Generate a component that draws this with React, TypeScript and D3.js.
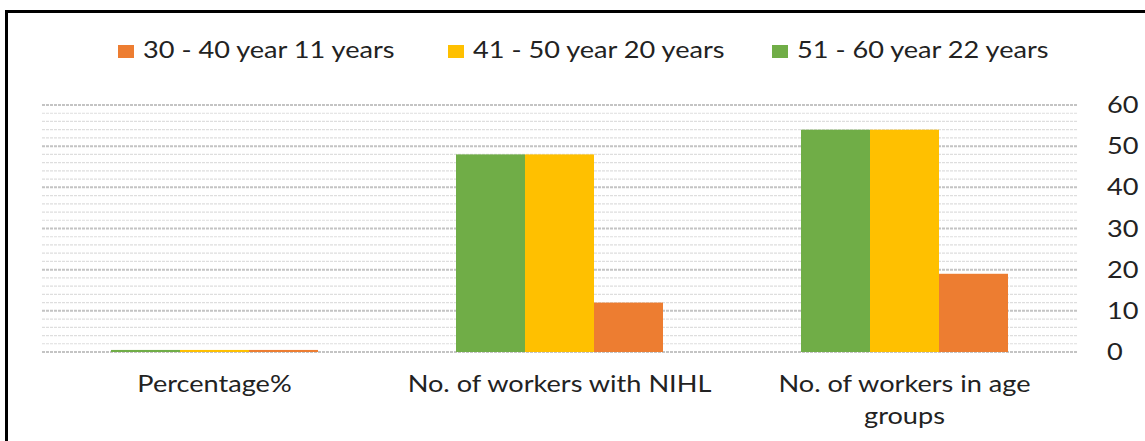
import React from "react";
import * as d3 from "d3";

const categories: string[][] = [
  ["Percentage%"],
  ["No. of workers with NIHL"],
  ["No. of workers in age", "groups"],
];
const seriesNames = ["51 - 60 year 22 years", "41 - 50 year 20 years", "30 - 40 year 11 years"];
const seriesColors = ["#70AD47", "#FFC000", "#ED7D31"];
const green51to60 = [0.5, 48, 54];
const yellow41to50 = [0.5, 48, 54];
const orange30to40 = [0.5, 12, 19];
const legendOrder = [2, 1, 0];
const yTicks = [0, 10, 20, 30, 40, 50, 60];

const W = 1145;
const H = 441;
const left = 42;
const right = 1077;
const top = 105;
const bottom = 352;
const FONT = "Lato, 'Open Sans', sans-serif";
const SX = 1.18;

function SText(props: {
  x: number;
  y: number;
  size: number;
  anchor?: "start" | "middle" | "end";
  dy?: string;
  children: React.ReactNode;
}) {
  return (
    <text
      transform={`translate(${props.x},${props.y}) scale(${SX},1)`}
      textAnchor={props.anchor ?? "start"}
      dy={props.dy}
      fontSize={props.size}
      fill="#222"
    >
      {props.children}
    </text>
  );
}

export default function App() {
  const series = [green51to60, yellow41to50, orange30to40];
  const x = d3
    .scaleBand<number>()
    .domain(categories.map((_, i) => i))
    .range([left, right])
    .paddingInner(0.4)
    .paddingOuter(0.2);
  const x1 = d3
    .scaleBand<number>()
    .domain(series.map((_, i) => i))
    .range([0, x.bandwidth()]);
  const y = d3.scaleLinear().domain([0, 60]).range([bottom, top]);
  const minor = d3.range(0, 61, 2);
  const legendX = [118, 448, 772];

  return (
    <svg
      width={W}
      height={H}
      style={{ position: "absolute", left: 0, top: 0, background: "#fff" }}
      fontFamily={FONT}
    >
      <rect x={0} y={0} width={W} height={H} fill="#fff" />
      <rect x={6.5} y={11.5} width={W + 20} height={H + 20} fill="none" stroke="#000" strokeWidth={3} />
      {minor.map((v) => (
        <line
          key={v}
          x1={left}
          x2={right}
          y1={y(v)}
          y2={y(v)}
          stroke={v % 10 === 0 ? "#c4c4c4" : "#dedede"}
          strokeWidth={v % 10 === 0 ? 2 : 1.2}
          strokeDasharray="3 1"
        />
      ))}
      {series.map((vals, si) =>
        vals.map((v, ci) => (
          <rect
            key={`${si}-${ci}`}
            x={(x(ci) ?? 0) + (x1(si) ?? 0)}
            y={y(v)}
            width={x1.bandwidth()}
            height={bottom - y(v)}
            fill={seriesColors[si]}
          />
        ))
      )}
      {yTicks.map((t) => (
        <SText key={t} x={1107} y={y(t)} dy="0.35em" size={23}>
          {t}
        </SText>
      ))}
      {categories.map((lines, ci) =>
        lines.map((l, li) => (
          <SText
            key={`${ci}-${li}`}
            x={(x(ci) ?? 0) + x.bandwidth() / 2}
            y={392 + li * 32}
            anchor="middle"
            size={23}
          >
            {l}
          </SText>
        ))
      )}
      {legendOrder.map((si, i) => (
        <g key={si}>
          <rect x={legendX[i]} y={45} width={16} height={13} fill={seriesColors[si]} />
          <SText x={legendX[i] + 25} y={58} size={23}>
            {seriesNames[si]}
          </SText>
        </g>
      ))}
    </svg>
  );
}
